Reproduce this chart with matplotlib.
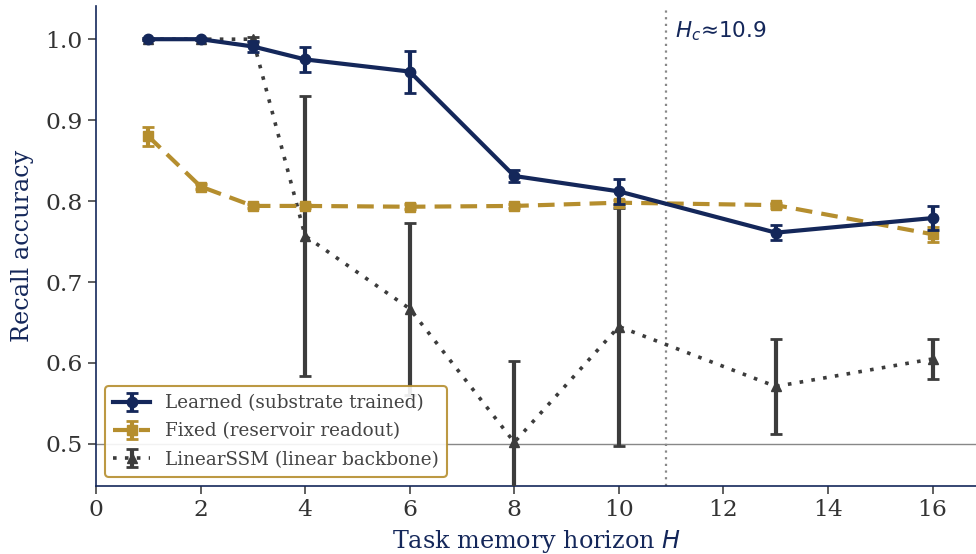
import matplotlib
matplotlib.use("Agg")
import matplotlib.pyplot as plt

H = [1, 2, 3, 4, 6, 8, 10, 13, 16]

learned = [1.000, 1.000, 0.991, 0.975, 0.960, 0.831, 0.812, 0.761, 0.779]
learned_err = [0.001, 0.001, 0.007, 0.015, 0.026, 0.007, 0.015, 0.009, 0.015]

fixed = [0.880, 0.818, 0.794, 0.794, 0.793, 0.794, 0.798, 0.795, 0.759]
fixed_err = [0.012, 0.003, 0.003, 0.003, 0.003, 0.003, 0.003, 0.003, 0.009]

linear = [1.000, 1.000, 1.000, 0.757, 0.667, 0.502, 0.645, 0.571, 0.605]
linear_err = [0.001, 0.001, 0.003, 0.173, 0.106, 0.100, 0.147, 0.059, 0.025]

labels = ["Learned (substrate trained)", "Fixed (reservoir readout)",
          "LinearSSM (linear backbone)"]
Hc = 10.9
chance = 0.5

NAVY = "#14275a"
GOLD = "#b58e2e"
GRAY = "#3c3c3c"

plt.rcParams['font.family'] = ['DejaVu Serif']
plt.rcParams['mathtext.fontset'] = 'dejavusans'

fig = plt.figure(figsize=(9.76, 5.54), dpi=100)
ax = fig.add_axes([96/976, 68/554, 880/976, 480/554])

ax.axhline(chance, color="#888888", lw=1.0, zorder=1)
ax.axvline(Hc, color="#888888", lw=1.6, ls=(0, (1, 2)), zorder=1)

ax.errorbar(H, learned, yerr=learned_err, color=NAVY, lw=3, marker='o', ms=7.5,
            capsize=4, elinewidth=3, capthick=2, label=labels[0], zorder=5)
ax.errorbar(H, fixed, yerr=fixed_err, color=GOLD, lw=3, ls=(0, (4, 2.2)), marker='s', ms=7.5,
            capsize=4, elinewidth=3, capthick=2, label=labels[1], zorder=4)
ax.errorbar(H, linear, yerr=linear_err, color=GRAY, lw=2.6, ls=(0, (1, 2.3)), marker='^', ms=7.5,
            capsize=4, elinewidth=3, capthick=2, label=labels[2], zorder=3)

ax.text(11.08, 1.010, r"$H_c$≈10.9", family='DejaVu Sans', color=NAVY,
        fontsize=15.5, va='center', ha='left')

ax.set_xlim(0, 16.83)
ax.set_ylim(0.448, 1.041)
ax.set_xticks([0, 2, 4, 6, 8, 10, 12, 14, 16])
ax.set_yticks([0.5, 0.6, 0.7, 0.8, 0.9, 1.0])

for s in ['top', 'right']:
    ax.spines[s].set_visible(False)
for s in ['left', 'bottom']:
    ax.spines[s].set_color(NAVY)
    ax.spines[s].set_linewidth(1.2)

ax.tick_params(axis='both', labelsize=16.8, colors='#444444', length=6, width=1.2,
               labelcolor='#333333')
ax.set_xlabel("Task memory horizon $H$", fontsize=17.2, color=NAVY, labelpad=5)
ax.set_ylabel("Recall accuracy", fontsize=17.2, color=NAVY, labelpad=8)

leg = ax.legend(loc='lower left', fontsize=13.2, borderaxespad=0.5,
                frameon=True, fancybox=True, edgecolor=GOLD, framealpha=0.9,
                handlelength=2.0, handletextpad=0.8, labelspacing=0.55, borderpad=0.45)
leg.get_frame().set_linewidth(1.5)
for t in leg.get_texts():
    t.set_color('#444444')

fig.savefig("out.png", dpi=100)
